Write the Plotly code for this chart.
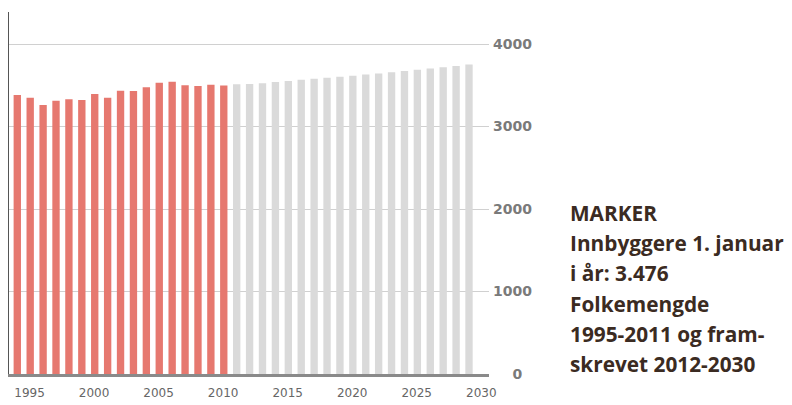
import plotly.graph_objects as go

years_hist = list(range(1995, 2012))
pop_hist = [3382, 3349, 3261, 3313, 3330, 3321, 3394, 3349, 3434, 3430,
            3475, 3531, 3543, 3499, 3491, 3505, 3496]
years_proj = list(range(2012, 2031))
pop_proj = [3512, 3516, 3524, 3538, 3552, 3566, 3580, 3592, 3604, 3616,
            3630, 3644, 3658, 3672, 3688, 3702, 3718, 3734, 3752]
x_tick_years = [1995, 2000, 2005, 2010, 2015, 2020, 2025, 2030]
y_ticks = [0, 1000, 2000, 3000, 4000]
y_tick_labels = ["\u2007\u20070", "1000", "2000", "3000", "4000"]
caption_lines = ["MARKER", "Innbyggere 1. januar", "i år: 3.476",
                 "Folkemengde", "1995-2011 og fram-", "skrevet 2012-2030"]

# the page body has an 8px default margin; size the figure so it fits the window
OFF = 8
W, H = 792 - OFF, 405 - OFF
ML, MT = 8 - OFF, 12 - OFF
MR, MB = W - (489 - OFF), H - (374 - OFF)
PW, PH = W - ML - MR, H - MT - MB

fig = go.Figure()
fig.add_trace(go.Bar(x=years_hist, y=pop_hist, marker_color="#e6786f",
                     marker_line_width=0, hoverinfo="x+y"))
fig.add_trace(go.Bar(x=years_proj, y=pop_proj, marker_color="#dadada",
                     marker_line_width=0, hoverinfo="x+y"))

fig.update_layout(
    width=W, height=H,
    margin=dict(l=ML, r=MR, t=MT, b=MB, pad=0),
    paper_bgcolor="white", plot_bgcolor="white",
    showlegend=False, barmode="overlay", bargap=0.43,
    xaxis=dict(range=[1994.28, 2031.55],
               tickvals=[y + 0.95 for y in x_tick_years],
               ticktext=[str(y) for y in x_tick_years],
               ticks="", showgrid=False, zeroline=False,
               showline=True, linecolor="#8a8a8a", linewidth=3,
               ticklabelstandoff=6,
               tickfont=dict(family="DejaVu Sans", size=12, color="#666666")),
    yaxis=dict(range=[0, 4388], side="right",
               tickvals=y_ticks, ticktext=y_tick_labels,
               ticks="", showgrid=True, gridcolor="#d0d0d0", gridwidth=1,
               zeroline=False, showline=False, ticklabelstandoff=3,
               tickfont=dict(family="DejaVu Sans", size=14, color="#7a7a7a",
                             weight="bold")),
)

fig.add_shape(type="line", xref="paper", yref="paper", x0=0, x1=0, y0=0, y1=1,
              line=dict(color="#555555", width=2))

for i, line in enumerate(caption_lines):
    fig.add_annotation(text=line, xref="paper", yref="paper",
                       x=(568 - OFF - ML) / PW, xanchor="left",
                       y=(H - MB - (213 + 30.2 * i - OFF)) / PH,
                       yanchor="middle", showarrow=False,
                       font=dict(family="Open Sans", size=20.8, color="#3b2b22",
                                 weight="bold"))

fig.write_html("out.html")
